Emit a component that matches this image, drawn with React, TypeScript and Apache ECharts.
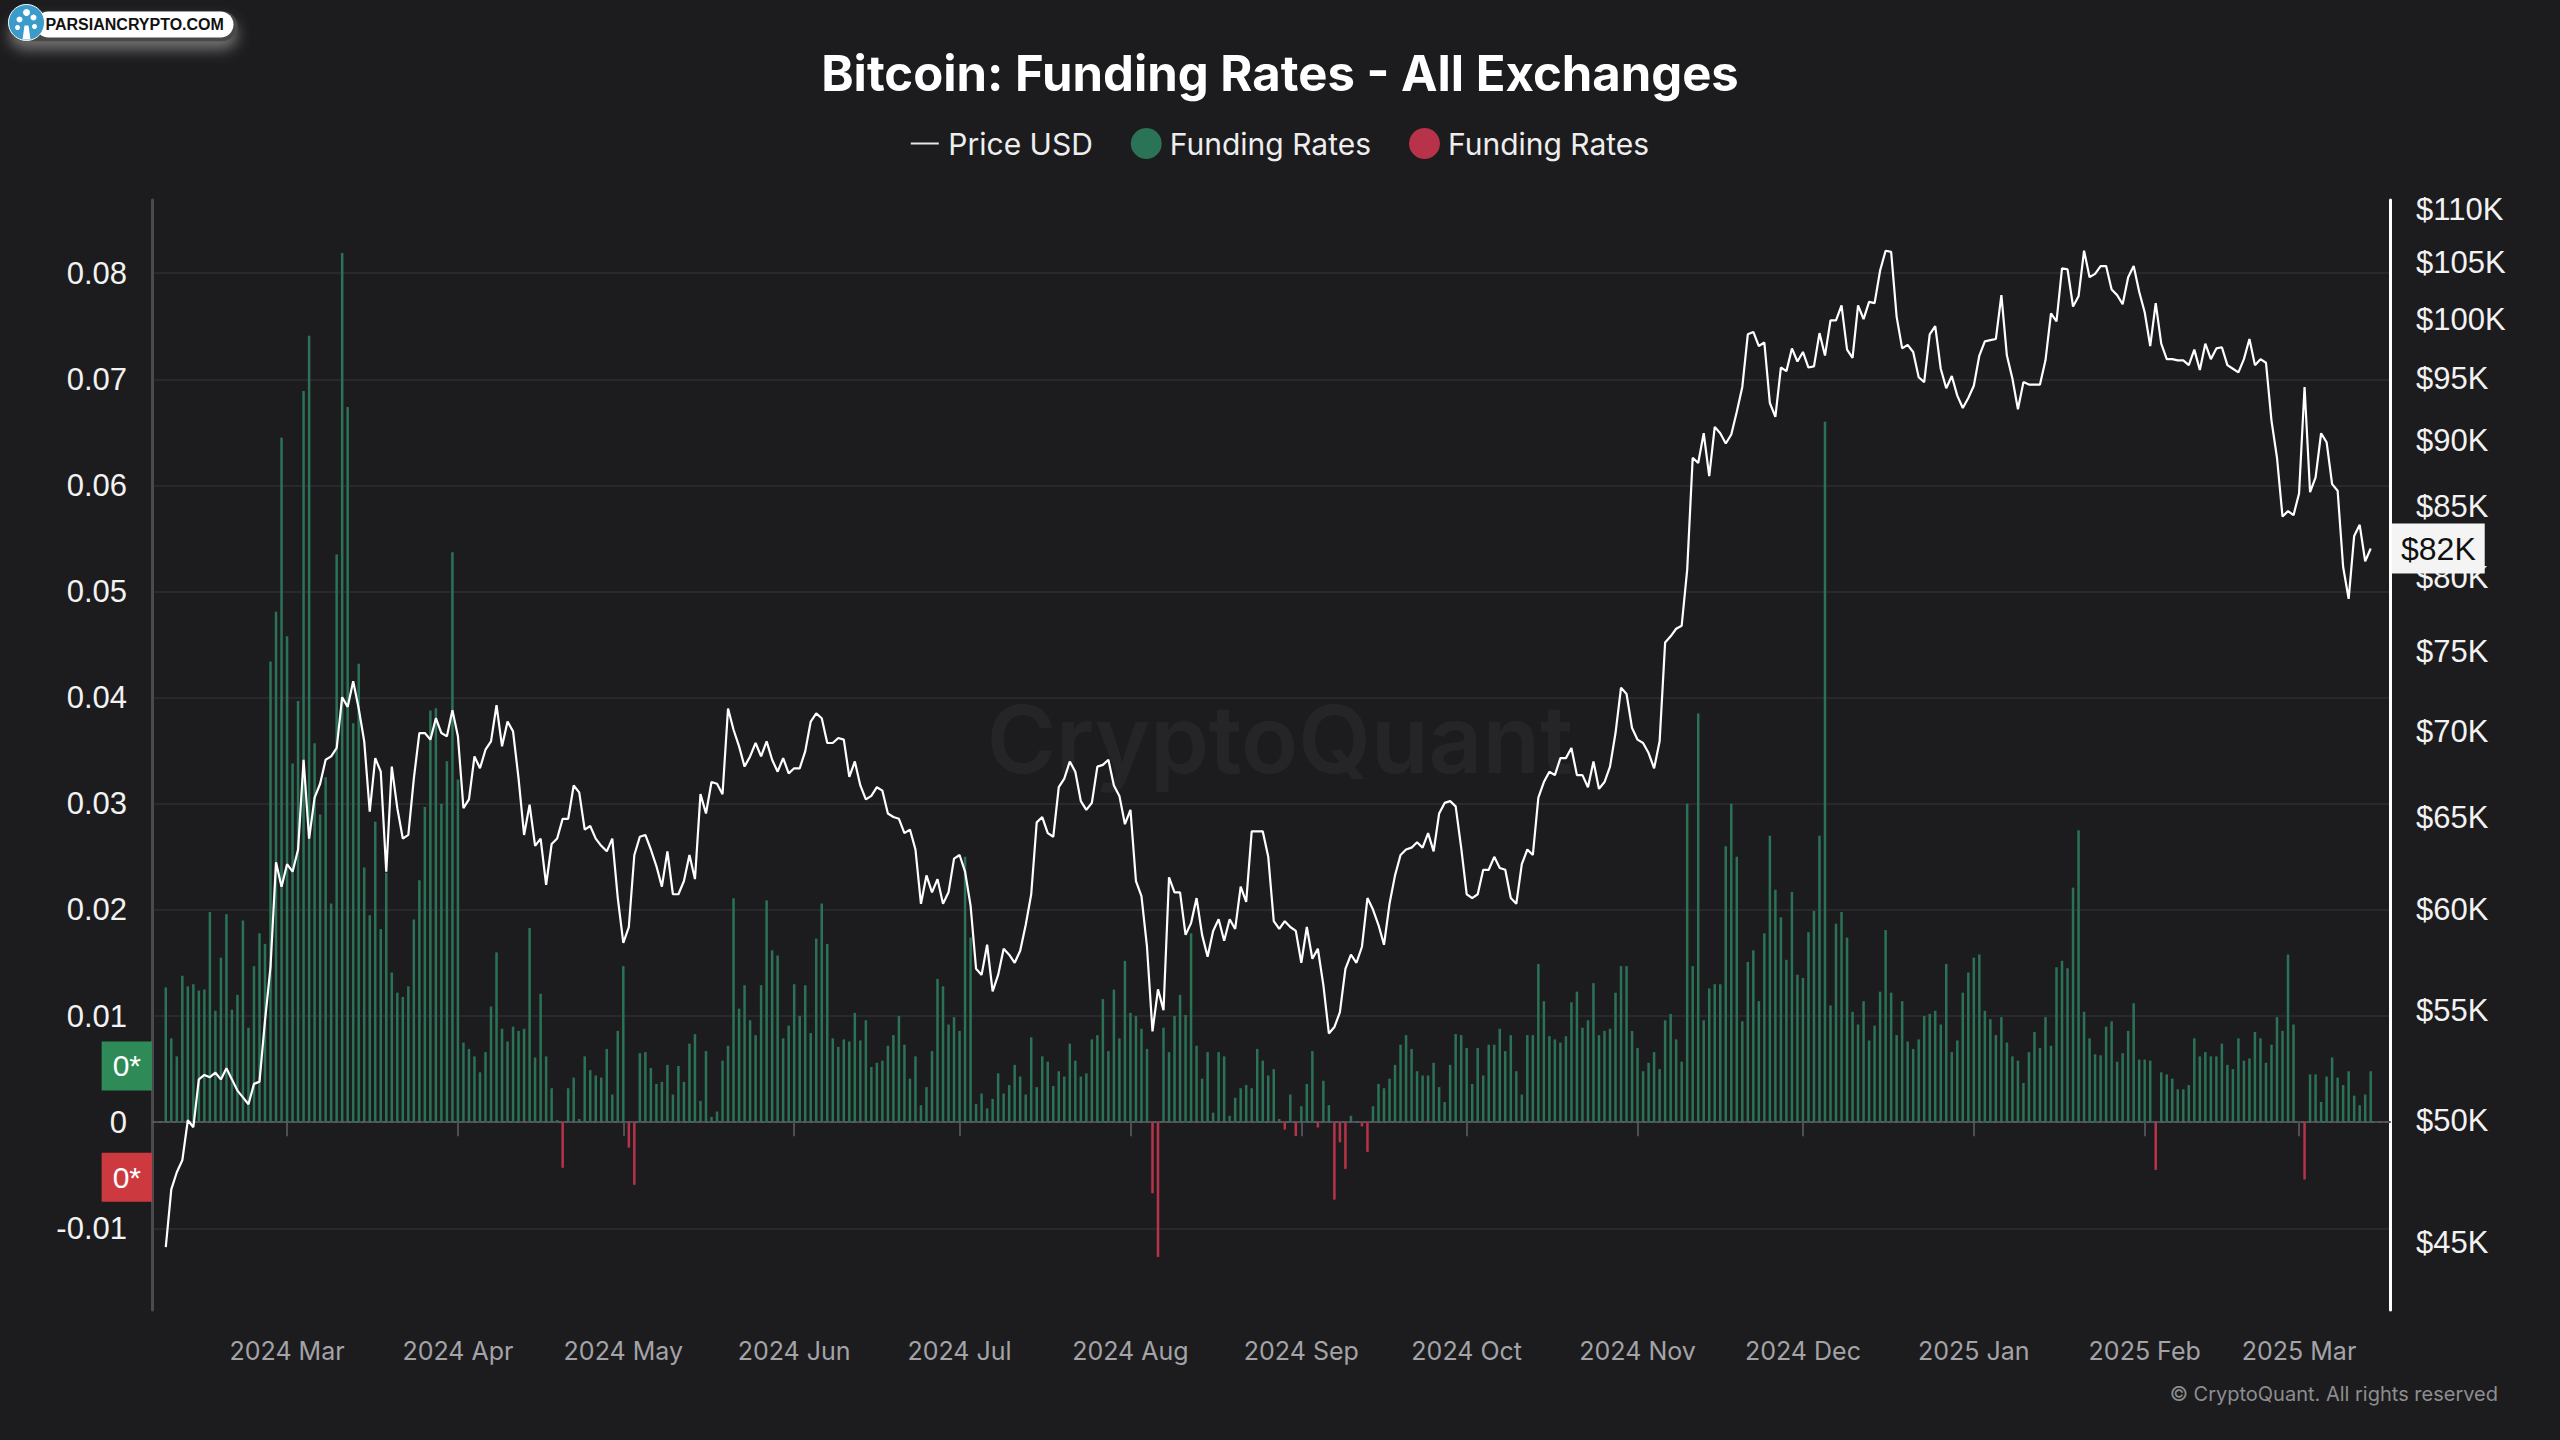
import React, { useEffect, useRef } from 'react';
import * as echarts from 'echarts';

// ---------- DATA ----------
const FIRST_DATE = '2024-02-08'; // first daily observation
const PAD_BEFORE = 2; // empty days shown before first observation
const PAD_AFTER = 3; // empty days shown after last observation

// Funding rates (all exchanges), daily, from 2024-02-08 to 2025-03-14
const fundingRates: number[] = [
  // 2024 Feb 8-29
  0.0127, 0.0079, 0.0062, 0.0138, 0.0128, 0.013, 0.0124, 0.0125, 0.0198, 0.0105, 0.0155, 0.0196, 0.0106, 0.012, 0.019, 0.0089, 0.0147, 0.0178, 0.0168, 0.0434, 0.0481, 0.0645,
  // 2024 Mar
  0.0458, 0.0338, 0.0397, 0.0689, 0.0741, 0.0357, 0.029, 0.0325, 0.0206, 0.0535, 0.0819, 0.0674, 0.0376, 0.0432, 0.024, 0.0195, 0.0283, 0.0182, 0.0235, 0.0141, 0.0122, 0.0118, 0.0128, 0.0191, 0.0228, 0.0297, 0.0388, 0.039, 0.03, 0.034, 0.0537,
  // 2024 Apr
  0.0323, 0.0075, 0.0069, 0.0062, 0.0047, 0.0066, 0.0109, 0.016, 0.0088, 0.0076, 0.009, 0.0086, 0.0088, 0.0183, 0.0061, 0.0121, 0.0062, 0.0032, 0.0002, -0.0043, 0.0032, 0.0042, 0.0003, 0.0062, 0.0049, 0.0044, 0.0042, 0.0069, 0.0026, 0.0086,
  // 2024 May
  0.0147, -0.0024, -0.0059, 0.0065, 0.0066, 0.0051, 0.0036, 0.0038, 0.0054, 0.0026, 0.0053, 0.0038, 0.0074, 0.0083, 0.002, 0.0067, 0.0005, 0.001, 0.0058, 0.0072, 0.0211, 0.0107, 0.0129, 0.0096, 0.0082, 0.0129, 0.0209, 0.0162, 0.0157, 0.0079, 0.0091,
  // 2024 Jun
  0.013, 0.01, 0.0129, 0.0084, 0.0173, 0.0206, 0.0168, 0.0079, 0.0071, 0.0078, 0.0076, 0.0103, 0.0077, 0.0096, 0.0052, 0.0056, 0.0058, 0.0072, 0.0082, 0.01, 0.0073, 0.0041, 0.0062, 0.0016, 0.0033, 0.0067, 0.0135, 0.0128, 0.0092, 0.0099,
  // 2024 Jul
  0.0086, 0.025, 0.0174, 0.0017, 0.0027, 0.0013, 0.0022, 0.0046, 0.0027, 0.0035, 0.0054, 0.0043, 0.0026, 0.008, 0.0033, 0.0062, 0.0057, 0.0034, 0.0048, 0.0043, 0.0074, 0.0058, 0.0043, 0.0046, 0.0078, 0.0082, 0.0116, 0.0067, 0.0125, 0.0079, 0.0152,
  // 2024 Aug
  0.0103, 0.01, 0.0088, 0.0069, -0.0067, -0.0127, 0.0089, 0.0066, 0.01, 0.012, 0.0101, 0.0178, 0.0072, 0.0041, 0.0066, 0.0009, 0.0066, 0.0062, 0.0006, 0.0023, 0.0032, 0.0035, 0.0032, 0.0069, 0.0058, 0.0044, 0.005, 0.0003, -0.0007, 0.0026, -0.0013,
  // 2024 Sep
  0.0015, 0.0036, 0.0067, -0.0005, 0.0039, 0.0016, -0.0073, -0.0019, -0.0044, 0.0006, 0.0001, -0.0004, -0.0028, 0.0015, 0.0036, 0.0032, 0.0041, 0.0054, 0.0073, 0.0082, 0.0069, 0.0048, 0.0044, 0.0044, 0.0056, 0.0033, 0.0019, 0.0054, 0.0083, 0.0082,
  // 2024 Oct
  0.007, 0.0036, 0.007, 0.0044, 0.0073, 0.0073, 0.0088, 0.0067, 0.0082, 0.0048, 0.0026, 0.0082, 0.0082, 0.0149, 0.0114, 0.0081, 0.0078, 0.0075, 0.0081, 0.0113, 0.0123, 0.0089, 0.0096, 0.0131, 0.0082, 0.0086, 0.0088, 0.0122, 0.0147, 0.0147, 0.0086,
  // 2024 Nov
  0.007, 0.0048, 0.0056, 0.0066, 0.005, 0.0096, 0.0102, 0.0078, 0.0057, 0.03, 0.0147, 0.0385, 0.0096, 0.0126, 0.013, 0.013, 0.026, 0.03, 0.025, 0.0095, 0.0151, 0.0162, 0.0114, 0.0178, 0.027, 0.0219, 0.0193, 0.0153, 0.0217, 0.0139,
  // 2024 Dec
  0.0136, 0.0179, 0.0199, 0.027, 0.066, 0.011, 0.0187, 0.0198, 0.0174, 0.0104, 0.0092, 0.0114, 0.0077, 0.0091, 0.0123, 0.0181, 0.0122, 0.0082, 0.0114, 0.0076, 0.0069, 0.0078, 0.01, 0.0102, 0.0105, 0.0092, 0.0149, 0.0066, 0.0077, 0.0122, 0.0141,
  // 2025 Jan
  0.0155, 0.0158, 0.0105, 0.0097, 0.0082, 0.0099, 0.0075, 0.0062, 0.0058, 0.0037, 0.0066, 0.0085, 0.007, 0.0099, 0.0072, 0.0146, 0.0152, 0.0145, 0.0221, 0.0275, 0.0104, 0.0079, 0.0064, 0.0063, 0.009, 0.0095, 0.0057, 0.0065, 0.0086, 0.0112, 0.0059,
  // 2025 Feb
  0.0059, 0.0058, -0.0045, 0.0047, 0.0045, 0.0041, 0.0031, 0.0031, 0.0035, 0.0079, 0.0062, 0.0066, 0.0062, 0.0062, 0.0074, 0.0054, 0.005, 0.0079, 0.0058, 0.006, 0.0085, 0.0079, 0.0056, 0.0073, 0.0099, 0.0086, 0.0158, 0.0092,
  // 2025 Mar 1-14
  0.0, -0.0054, 0.0045, 0.0045, 0.0019, 0.0043, 0.0061, 0.0042, 0.0035, 0.0048, 0.0025, 0.0016, 0.0026, 0.0048,
];

// BTC price in thousands of USD, same days
const priceUsdK: number[] = [
  // 2024 Feb 8-29
  44.8, 47.1, 47.8, 48.3, 50.0, 49.7, 51.8, 52.0, 51.9, 52.1, 51.8, 52.3, 51.8, 51.3, 51.0, 50.7, 51.6, 51.7, 54.5, 57.1, 62.5, 61.2,
  // 2024 Mar
  62.4, 62.0, 63.2, 68.3, 63.8, 66.1, 66.9, 68.3, 68.5, 69.0, 72.1, 71.5, 73.1, 71.4, 69.4, 65.3, 68.4, 67.6, 62.0, 67.9, 65.5, 63.8, 64.0, 67.2, 69.9, 69.9, 69.5, 70.8, 69.9, 69.7, 71.3,
  // 2024 Apr
  69.7, 65.5, 66.0, 68.5, 67.8, 68.9, 69.4, 71.6, 69.1, 70.6, 70.0, 67.2, 64.0, 65.7, 63.4, 63.8, 61.3, 63.5, 63.8, 64.9, 64.9, 66.8, 66.4, 64.3, 64.5, 63.8, 63.4, 63.1, 63.8, 60.6,
  // 2024 May
  58.3, 59.1, 62.9, 63.9, 64.0, 63.2, 62.3, 61.2, 63.1, 60.8, 60.8, 61.5, 62.9, 61.6, 66.3, 65.2, 67.0, 66.9, 66.3, 71.4, 70.1, 69.1, 67.9, 68.5, 69.3, 68.5, 69.4, 68.3, 67.6, 68.4, 67.5,
  // 2024 Jun
  67.8, 67.8, 68.8, 70.6, 71.1, 70.8, 69.3, 69.3, 69.6, 69.5, 67.3, 68.2, 66.8, 66.0, 66.2, 66.7, 66.5, 65.2, 65.0, 64.9, 64.1, 64.3, 63.2, 60.3, 61.8, 60.9, 61.6, 60.3, 60.9, 62.7,
  // 2024 Jul
  62.9, 62.0, 60.2, 57.0, 56.7, 58.2, 55.9, 56.7, 58.0, 57.7, 57.3, 57.9, 59.2, 60.8, 64.7, 65.0, 64.1, 63.9, 66.7, 67.2, 68.2, 67.6, 65.9, 65.4, 65.8, 67.9, 68.0, 68.3, 66.8, 66.2, 64.6,
  // 2024 Aug
  65.4, 61.5, 60.7, 58.1, 54.0, 56.0, 55.0, 61.7, 60.9, 60.9, 58.7, 59.3, 60.6, 58.7, 57.6, 58.9, 59.5, 58.4, 59.5, 59.0, 61.2, 60.4, 64.2, 64.2, 64.2, 62.8, 59.4, 59.0, 59.4, 59.1, 58.9,
  // 2024 Sep
  57.3, 59.1, 57.5, 58.0, 56.2, 53.9, 54.2, 54.9, 57.0, 57.7, 57.3, 58.1, 60.6, 60.0, 59.2, 58.2, 60.3, 61.8, 62.9, 63.2, 63.3, 63.6, 63.3, 64.1, 63.1, 65.2, 65.8, 65.9, 65.6, 63.3,
  // 2024 Oct
  60.8, 60.6, 60.8, 62.1, 62.1, 62.8, 62.2, 62.1, 60.6, 60.3, 62.4, 63.2, 62.9, 66.1, 67.0, 67.6, 67.4, 68.4, 68.4, 69.0, 67.4, 67.4, 66.7, 68.2, 66.6, 67.0, 67.9, 69.9, 72.7, 72.3, 70.2,
  // 2024 Nov
  69.5, 69.3, 68.7, 67.8, 69.4, 75.6, 76.0, 76.5, 76.7, 80.5, 88.7, 88.3, 90.6, 87.3, 91.1, 90.6, 89.8, 90.5, 92.3, 94.3, 98.7, 98.9, 97.7, 98.0, 93.0, 91.9, 95.9, 95.6, 97.5, 96.4,
  // 2024 Dec
  97.2, 95.9, 96.0, 98.8, 96.9, 99.9, 99.9, 101.2, 97.4, 96.7, 101.2, 100.0, 101.5, 101.4, 104.3, 106.1, 106.0, 100.2, 97.5, 97.8, 97.2, 95.1, 94.7, 98.7, 99.4, 95.8, 94.2, 95.2, 93.6, 92.6, 93.4,
  // 2025 Jan
  94.4, 96.9, 98.1, 98.2, 98.3, 102.1, 96.9, 95.0, 92.5, 94.7, 94.5, 94.5, 94.5, 96.5, 100.5, 99.8, 104.5, 104.4, 101.1, 102.0, 106.1, 103.7, 104.0, 104.7, 104.7, 102.6, 102.1, 101.3, 103.7, 104.7, 102.4,
  // 2025 Feb
  100.6, 97.7, 101.4, 97.9, 96.6, 96.6, 96.5, 96.5, 96.1, 97.4, 95.7, 97.9, 96.6, 97.5, 97.6, 96.1, 95.8, 95.5, 96.6, 98.3, 96.1, 96.6, 96.3, 91.6, 88.7, 84.3, 84.7, 84.4,
  // 2025 Mar 1-14
  86.0, 94.3, 86.1, 87.2, 90.6, 89.9, 86.7, 86.2, 80.7, 78.5, 82.9, 83.7, 81.1, 82.0,
];

const rateTicks = [-0.01, 0, 0.01, 0.02, 0.03, 0.04, 0.05, 0.06, 0.07, 0.08];
const rateRange = [-0.0177, 0.0869];
const priceTicksK = [45, 50, 55, 60, 65, 70, 75, 80, 85, 90, 95, 100, 105, 110];
const priceRangeK = [42.43, 110.86];
const zeroTagValues = { positive: 0.0053, negative: -0.0052 };
const MONTHS = ['Jan', 'Feb', 'Mar', 'Apr', 'May', 'Jun', 'Jul', 'Aug', 'Sep', 'Oct', 'Nov', 'Dec'];

// ---------- STYLE ----------
const BG = '#1c1c1e';
const FONT_UI = 'Inter, "Noto Sans", sans-serif';
const FONT_AXIS = '"Liberation Sans", Arial, Helvetica, sans-serif';
const GREEN = '#2e8b57';
const GREEN_BAR = '#2b7356';
const RED = '#cc3a3f';
const RED_BAR = '#b8334a';
const HIDDEN_LINE = { color: 'rgba(0,0,0,0)', width: 1 };
const LINE_ICON = 'path://M0,0 L0.01,0 L0,0.01 Z M0,14.5 L28,14.5 L28,16.5 L0,16.5 Z M27.99,31 L28,31 L28,30.99 Z';

function buildDates(total: number): string[] {
  const [y, m, d] = FIRST_DATE.split('-').map(Number);
  const start = Date.UTC(y, m - 1, d) - PAD_BEFORE * 86400000;
  const out: string[] = [];
  for (let i = 0; i < total; i++) {
    out.push(new Date(start + i * 86400000).toISOString().slice(0, 10));
  }
  return out;
}

function pad<T>(arr: (T | null)[]): (T | null)[] {
  return [...new Array(PAD_BEFORE).fill(null), ...arr, ...new Array(PAD_AFTER).fill(null)];
}

export default function App() {
  const ref = useRef<HTMLDivElement>(null);

  useEffect(() => {
    document.body.style.margin = '0';
    document.body.style.background = BG;
    const chart = echarts.init(ref.current!, null, { renderer: 'svg' });

    const dates = buildDates(PAD_BEFORE + fundingRates.length + PAD_AFTER);
    const isMonthStart = (_i: number, v: string) => v.slice(8) === '01';
    const posRates = pad(fundingRates.map((v) => (v >= 0 ? v : null)));
    const negRates = pad(fundingRates.map((v) => (v < 0 ? v : null)));
    const logPrice = pad(priceUsdK.map((v) => Math.log(v)));
    const logTicks = priceTicksK.map((v) => Math.log(v));
    const lastPrice = priceUsdK[priceUsdK.length - 1];

    const tagLabel = (bg: string) => ({
      show: true,
      position: 'start',
      distance: 0,
      formatter: '0*',
      color: '#ffffff',
      backgroundColor: bg,
      fontSize: 30,
      fontFamily: FONT_AXIS,
      padding: [10, 11, 9, 11],
    });

    const option: any = {
      animation: false,
      backgroundColor: BG,
      title: {
        text: 'Bitcoin: Funding Rates - All Exchanges',
        left: 'center',
        top: 44,
        textStyle: { color: '#ffffff', fontSize: 49, fontWeight: 'bold', fontFamily: FONT_UI },
      },
      legend: {
        top: 123,
        left: 'center',
        itemWidth: 31,
        itemHeight: 31,
        itemGap: 38,
        data: [
          { name: 'Price USD', icon: LINE_ICON, itemStyle: { color: '#e6e6e6' } },
          { name: 'Funding Rates +', icon: 'circle' },
          { name: 'Funding Rates -', icon: 'circle' },
        ],
        formatter: (name: string) => name.replace(/ [+-]$/, ''),
        textStyle: { color: '#eeeeee', fontSize: 30, fontFamily: FONT_UI, padding: [0, 0, 0, 3] },
      },
      grid: { left: 152, right: 170, top: 200, bottom: 130 },
      xAxis: {
        type: 'category',
        data: dates,
        boundaryGap: true,
        axisLine: { show: true, lineStyle: { color: '#4e4e54', width: 2 } },
        axisTick: { show: true, alignWithLabel: true, interval: isMonthStart, length: 14, lineStyle: { color: '#4e4e54', width: 2 } },
        axisLabel: {
          interval: isMonthStart,
          formatter: (v: string) => `${v.slice(0, 4)} ${MONTHS[Number(v.slice(5, 7)) - 1]}`,
          color: '#a3a3a8',
          fontSize: 25,
          fontFamily: FONT_UI,
          margin: 28,
        },
        splitLine: { show: false },
      },
      yAxis: [
        {
          type: 'value',
          position: 'left',
          min: rateRange[0],
          max: rateRange[1],
          axisLine: { show: true, lineStyle: { color: '#4a4a50', width: 3 } },
          axisTick: { show: false, customValues: rateTicks },
          axisLabel: {
            customValues: rateTicks,
            formatter: (v: number) => String(Number(v.toFixed(2))),
            color: '#f2f2f2',
            fontSize: 31,
            fontFamily: FONT_AXIS,
            margin: 25,
          },
          splitLine: { show: true, lineStyle: { color: '#28282f', width: 2 } },
        },
        {
          type: 'value',
          position: 'right',
          min: Math.log(priceRangeK[0]),
          max: Math.log(priceRangeK[1]),
          axisLine: { show: true, lineStyle: { color: '#ffffff', width: 3 } },
          axisTick: { show: false, customValues: logTicks },
          axisLabel: {
            customValues: logTicks,
            formatter: (v: number) => `$${Math.round(Math.exp(v))}K`,
            color: '#f2f2f2',
            fontSize: 31,
            fontFamily: FONT_AXIS,
            margin: 26,
          },
          splitLine: { show: false },
        },
      ],
      series: [
        {
          name: 'Funding Rates +',
          type: 'bar',
          yAxisIndex: 0,
          data: posRates,
          barWidth: 2.5,
          barGap: '-100%',
          itemStyle: { color: GREEN_BAR },
          z: 2,
          markLine: {
            silent: true,
            symbol: 'none',
            precision: 6,
            data: [
              { yAxis: 0, lineStyle: { color: '#5c5c62', type: [3, 4], width: 1.5 }, label: { show: false } },
              { yAxis: zeroTagValues.positive, lineStyle: HIDDEN_LINE, label: tagLabel(GREEN) },
            ],
          },
        },
        {
          name: 'Funding Rates -',
          type: 'bar',
          yAxisIndex: 0,
          data: negRates,
          barWidth: 2.5,
          barGap: '-100%',
          itemStyle: { color: RED_BAR },
          z: 2,
          markLine: {
            silent: true,
            symbol: 'none',
            precision: 6,
            data: [{ yAxis: zeroTagValues.negative, lineStyle: HIDDEN_LINE, label: tagLabel(RED) }],
          },
        },
        {
          name: 'Price USD',
          type: 'line',
          yAxisIndex: 1,
          data: logPrice,
          symbol: 'none',
          showSymbol: false,
          lineStyle: { color: '#ffffff', width: 2.2 },
          itemStyle: { color: '#ffffff' },
          z: 5,
          markLine: {
            silent: true,
            symbol: 'none',
            precision: 6,
            data: [
              {
                yAxis: Math.log(lastPrice),
                lineStyle: HIDDEN_LINE,
                label: {
                  show: true,
                  position: 'end',
                  distance: 2,
                  formatter: `$${Math.floor(lastPrice)}K`,
                  color: '#111111',
                  backgroundColor: '#f4f4f4',
                  fontSize: 32,
                  fontFamily: FONT_AXIS,
                  padding: [9, 9, 9, 9],
                },
              },
            ],
          },
        },
      ],
      graphic: [
        {
          type: 'text',
          left: 'center',
          top: 692,
          silent: true,
          z: 0,
          style: { text: 'CryptoQuant', font: `600 94px ${FONT_UI}`, fill: 'rgba(255,255,255,0.045)' },
        },
        {
          type: 'text',
          right: 62,
          top: 1384,
          style: { text: '\u00a9 CryptoQuant. All rights reserved', font: `20px ${FONT_UI}`, fill: '#8d8d90' },
        },
        {
          type: 'group',
          left: 8,
          top: 4,
          children: [
            {
              type: 'rect',
              shape: { x: 6, y: 8, width: 228, height: 30, r: 15 },
              style: { fill: '#4a4a4a', shadowBlur: 14, shadowColor: 'rgba(150,150,150,0.7)', shadowOffsetY: 8 },
            },
            { type: 'rect', shape: { x: 32, y: 8, width: 198, height: 26, r: 13 }, style: { fill: '#ffffff' } },
            { type: 'circle', shape: { cx: 23, cy: 19, r: 18 }, style: { fill: '#3b9bcb', stroke: '#ffffff', lineWidth: 1 } },
            { type: 'polygon', shape: { points: [[19, 36], [27, 36], [25, 22], [21, 22]] }, style: { fill: '#ffffff' } },
            { type: 'circle', shape: { cx: 16, cy: 16, r: 3 }, style: { fill: '#ffffff' } },
            { type: 'circle', shape: { cx: 23, cy: 9, r: 3.5 }, style: { fill: '#ffffff' } },
            { type: 'circle', shape: { cx: 30, cy: 14, r: 3 }, style: { fill: '#ffffff' } },
            { type: 'circle', shape: { cx: 14, cy: 24, r: 2.5 }, style: { fill: '#ffffff' } },
            { type: 'circle', shape: { cx: 31, cy: 23, r: 2.5 }, style: { fill: '#ffffff' } },
            {
              type: 'text',
              x: 42,
              y: 21,
              style: { text: 'PARSIANCRYPTO.COM', font: `bold 16px ${FONT_AXIS}`, fill: '#111111', verticalAlign: 'middle' },
            },
          ],
        },
      ],
    };

    chart.setOption(option);
    return () => chart.dispose();
  }, []);

  return <div ref={ref} style={{ width: 2560, height: 1440 }} />;
}
